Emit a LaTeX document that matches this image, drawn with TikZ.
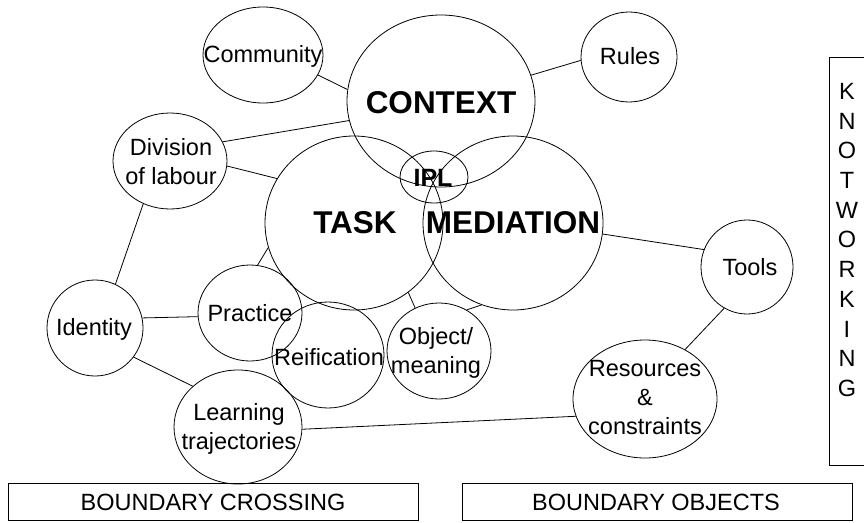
\documentclass[tikz,border=0pt]{standalone}
\usepackage{fontspec}
\setmainfont{Liberation Sans}
\usetikzlibrary{shapes.geometric}
\begin{document}
\begin{tikzpicture}[x=1pt,y=-1pt,
  bubble/.style 2 args={draw, ellipse, line width=0.8pt, inner sep=0pt,
    minimum width=2*#1, minimum height=2*#2},
  lbl/.style={font=\fontsize{23.5}{29}\selectfont, align=center, inner sep=0pt},
  big/.style={font=\fontsize{31.5}{36}\selectfont\bfseries, inner sep=0pt},
  mid/.style={font=\fontsize{25}{30}\selectfont\bfseries, inner sep=0pt},
  link/.style={draw, line width=0.8pt},
  banner/.style={draw, rectangle, line width=0.8pt, inner sep=0pt}
]
\useasboundingbox (0,0) rectangle (864,522);

% ellipses
\node[bubble={60}{48}] (comm)  at (263,55)  {};
\node[bubble={94}{86}] (ctx)   at (441,101) {};
\node[bubble={48}{45}] (rules) at (629,57)  {};
\node[bubble={57}{48}] (div)   at (170,161) {};
\node[bubble={89}{87}] (task)  at (354,223) {};
\node[bubble={90}{87}] (med)   at (513,223) {};
\node[bubble={34}{26}] (ipl)   at (434,177) {};
\node[bubble={46}{47}] (tools) at (747,267) {};
\node[bubble={48}{48}] (ident) at (95,328)  {};
\node[bubble={52}{48}] (prac)  at (250,313) {};
\node[bubble={56}{53}] (reif)  at (328,355) {};
\node[bubble={52}{48}] (obj)   at (439,351) {};
\node[bubble={64}{57}] (learn) at (238,427) {};
\node[bubble={72}{59}] (res)   at (645,399) {};

% labels
\node[lbl] (tcomm)  at (263,56)  {Community};
\node[big] (tctx)   at (441,103) {CONTEXT};
\node[lbl] (trules) at (630,56)  {Rules};
\node[lbl] (tdiv)   at (171,162) {Division\\of labour};
\node[big] (ttask)  at (355,223) {TASK};
\node[big] (tmed)   at (513,223) {MEDIATION};
\node[mid] (tipl)   at (433,178) {IPL};
\node[lbl] (ttools) at (750,267) {Tools};
\node[lbl] (tident) at (94,329)  {Identity};
\node[lbl] (tprac)  at (250,313) {Practice};
\node[lbl] (treif)  at (329,357) {Reification};
\node[lbl] (tobj)   at (436,353) {Object/\\meaning};
\node[lbl] (tlearn) at (239,429) {Learning\\trajectories};
\node[lbl] (tres)   at (645,398) {Resources\\\&\\constraints};

% connectors
\draw[link] (comm.-20.9)  -- (ctx.173.3);
\draw[link] (rules.184)   -- (ctx.16);
\draw[link] (div.20)      -- (ctx.192);
\draw[link] (div.-5)      -- (task.150.4);
\draw[link] (div.238.5)   -- (ident.65);
\draw[link] (ident.12.9)  -- (prac.184.3);
\draw[link] (ident.-37.6) -- (learn.138.8);
\draw[link] (prac.81.7)   -- (task.196.3);
\draw[link] (task.-52.9)  -- (obj.119.7);
\draw[link] (med.249.4)   -- (obj.56.3);
\draw[link] (med.-7)      -- (tools.158.2);
\draw[link] (tools.241.9) -- (res.51.1);
\draw[link] (learn.-2.6)  -- (res.194.7);

% bottom banners
\node[banner, minimum width=410, minimum height=37] (cross) at (213,501.5) {};
\node[lbl] (tcross) at (213,502) {BOUNDARY CROSSING};
\node[banner, minimum width=390, minimum height=37] (bobj) at (657,501.5) {};
\node[lbl] (tbobj) at (656,502) {BOUNDARY OBJECTS};

% side banner, running off the right edge
\begin{scope}
  \clip (0,0) rectangle (864,522);
  \node[banner, anchor=north west, minimum width=40, minimum height=408] (knot) at (829,57) {};
\end{scope}
\node[lbl, font=\fontsize{23.5}{29.7}\selectfont] (tknot) at (847,240)
  {K\\N\\O\\T\\W\\O\\R\\K\\I\\N\\G};
\end{tikzpicture}
\end{document}
